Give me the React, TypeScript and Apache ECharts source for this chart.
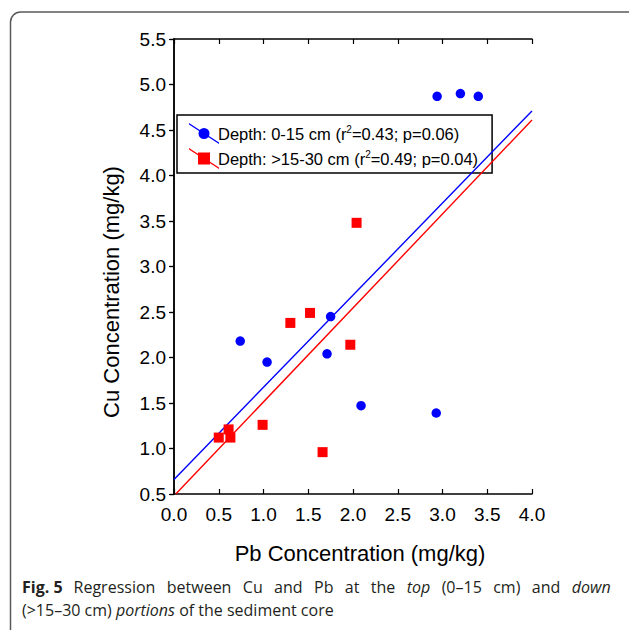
import React, { useEffect, useRef } from "react";
import * as echarts from "echarts";

// Data
const blueX = [2.94, 3.2, 3.4, 0.74, 1.04, 1.75, 1.71, 2.09, 2.93];
const blueY = [4.87, 4.9, 4.87, 2.18, 1.95, 2.45, 2.04, 1.47, 1.39];
const redX = [1.3, 1.52, 1.97, 0.99, 0.5, 0.61, 0.63, 1.66, 2.04];
const redY = [2.38, 2.49, 2.14, 1.26, 1.12, 1.21, 1.12, 0.96, 3.48];
const blueFitX = [0, 4];
const blueFitY = [0.66, 4.71];
const redFitX = [0.02, 4];
const redFitY = [0.5, 4.61];

const seriesNames = ["Depth: 0-15 cm", "Depth: >15-30 cm"];
const seriesStats = ["(r{sup|2}=0.43; p=0.06)", "(r{sup|2}=0.49; p=0.04)"];
const xTitle = "Pb Concentration (mg/kg)";
const yTitle = "Cu Concentration (mg/kg)";
const captionWords1 = ["Regression", "between", "Cu", "and", "Pb", "at", "the", "{i|top}", "(0–15", "cm)", "and", "{i|down}"];
const captionLine1 = "{b|Fig. 5}{g| }" + captionWords1.join("{s| }");
const captionLine2 = "(>15–30 cm) {i|portions} of the sediment core";

const BLUE = "#0000ff";
const RED = "#ff0000";
const FONT = "Liberation Sans";
const CAP_FONT = "Open Sans";
const CAP_COLOR = "#231f20";

const circleIcon =
  "path://M0,0 L30,19.4 L30,21 L0,1.6 Z M20.5,10.5 A5.5,5.5 0 1,1 9.5,10.5 A5.5,5.5 0 1,1 20.5,10.5 Z";
const squareIcon =
  "path://M0,0 L30,19.4 L30,21 L0,1.6 Z M9,4.5 L21,4.5 L21,16.5 L9,16.5 Z";

const zip = (xs: number[], ys: number[]) => xs.map((x, i) => [x, ys[i]]);

export default function App() {
  const ref = useRef<HTMLDivElement>(null);
  useEffect(() => {
    if (!ref.current) return;
    const chart = echarts.init(ref.current, null, { renderer: "svg" });
    const axisLine = { show: true, lineStyle: { color: "#000", width: 1.5 } };
    const fmt = (v: number) => v.toFixed(1);
    const capRich = {
      b: { fontFamily: CAP_FONT, fontSize: 16, fontWeight: "bold", fill: CAP_COLOR },
      i: { fontFamily: CAP_FONT, fontSize: 16, fontStyle: "italic", fill: CAP_COLOR },
      s: { fontFamily: CAP_FONT, fontSize: 16, width: 11.4, fill: CAP_COLOR },
      g: { fontFamily: CAP_FONT, fontSize: 16, width: 11, fill: CAP_COLOR },
    };
    chart.setOption({
      animation: false,
      backgroundColor: "#fff",
      grid: { left: 174, right: 97, top: 39, bottom: 136 },
      xAxis: [
        {
          type: "value",
          min: 0,
          max: 4,
          interval: 0.5,
          position: "bottom",
          axisLine,
          axisTick: { show: true, inside: true, length: 5, lineStyle: { color: "#000", width: 1.2 } },
          axisLabel: { formatter: fmt, fontFamily: FONT, fontSize: 19, color: "#000", margin: 11 },
          splitLine: { show: false },
        },
        {
          type: "value",
          min: 0,
          max: 4,
          interval: 0.5,
          position: "top",
          axisLine,
          axisTick: { show: true, inside: true, length: 5, lineStyle: { color: "#000", width: 1.2 } },
          axisLabel: { show: false },
          splitLine: { show: false },
        },
      ],
      yAxis: [
        {
          type: "value",
          min: 0.5,
          max: 5.5,
          interval: 0.5,
          position: "left",
          axisLine,
          axisTick: { show: true, inside: false, length: 4, lineStyle: { color: "#000", width: 1.2 } },
          axisLabel: { formatter: fmt, fontFamily: FONT, fontSize: 19, color: "#000", margin: 8 },
          splitLine: { show: false },
        },
        {
          type: "value",
          min: 0.5,
          max: 5.5,
          interval: 0.5,
          position: "right",
          axisLine,
          axisTick: { show: true, inside: true, length: 5, lineStyle: { color: "#000", width: 1.2 } },
          axisLabel: { show: false },
          splitLine: { show: false },
        },
      ],
      legend: {
        orient: "vertical",
        left: 177,
        top: 115,
        z: 1,
        padding: [8, 14, 4, 12],
        itemGap: 4,
        itemWidth: 30,
        itemHeight: 21,
        backgroundColor: "#fff",
        borderColor: "#000",
        borderWidth: 1.5,
        borderRadius: 0,
        data: [
          { name: seriesNames[0], icon: circleIcon },
          { name: seriesNames[1], icon: squareIcon },
        ],
        formatter: (name: string) => {
          const i = seriesNames.indexOf(name);
          return name + " " + seriesStats[i];
        },
        textStyle: {
          fontFamily: FONT,
          fontSize: 16.5,
          color: "#000",
          padding: [0, 0, 0, -6],
          rich: {
            sup: { fontFamily: FONT, fontSize: 10, color: "#000", padding: [0, 0, 9, 0] },
          },
        },
      },
      series: [
        {
          name: seriesNames[0],
          type: "scatter",
          data: zip(blueX, blueY),
          symbol: "circle",
          symbolSize: 9.5,
          itemStyle: { color: BLUE, opacity: 1 },
          z: 6,
        },
        {
          name: seriesNames[1],
          type: "scatter",
          data: zip(redX, redY),
          symbol: "rect",
          symbolSize: 10,
          itemStyle: { color: RED, opacity: 1 },
          z: 6,
        },
        {
          name: "fit-blue",
          type: "line",
          data: zip(blueFitX, blueFitY),
          symbol: "none",
          lineStyle: { color: BLUE, width: 1.4 },
          z: 5,
        },
        {
          name: "fit-red",
          type: "line",
          data: zip(redFitX, redFitY),
          symbol: "none",
          lineStyle: { color: RED, width: 1.4 },
          z: 5,
        },
      ],
      graphic: [
        {
          type: "rect",
          z: -10,
          silent: true,
          shape: { x: 10.5, y: 12, width: 640, height: 660, r: [10, 10, 0, 0] },
          style: { fill: "none", stroke: "#5a5a5a", lineWidth: 1.5 },
        },
        {
          type: "text",
          x: 360,
          y: 553,
          style: {
            text: xTitle,
            fontFamily: FONT,
            fontSize: 22,
            fill: "#000",
            textAlign: "center",
            textVerticalAlign: "middle",
          },
        },
        {
          type: "text",
          x: 111,
          y: 292,
          rotation: Math.PI / 2,
          style: {
            text: yTitle,
            fontFamily: FONT,
            fontSize: 22,
            fill: "#000",
            textAlign: "center",
            textVerticalAlign: "middle",
          },
        },
        {
          type: "text",
          x: 22,
          y: 587,
          style: {
            text: captionLine1,
            fontFamily: CAP_FONT,
            fontSize: 16,
            fill: CAP_COLOR,
            textAlign: "left",
            textVerticalAlign: "middle",
            rich: capRich,
          },
        },
        {
          type: "text",
          x: 22,
          y: 610,
          style: {
            text: captionLine2,
            fontFamily: CAP_FONT,
            fontSize: 16,
            fill: CAP_COLOR,
            textAlign: "left",
            textVerticalAlign: "middle",
            rich: capRich,
          },
        },
      ],
    });
    return () => chart.dispose();
  }, []);
  return (
    <div
      ref={ref}
      style={{ position: "fixed", left: 0, top: 0, width: 629, height: 630 }}
    />
  );
}
